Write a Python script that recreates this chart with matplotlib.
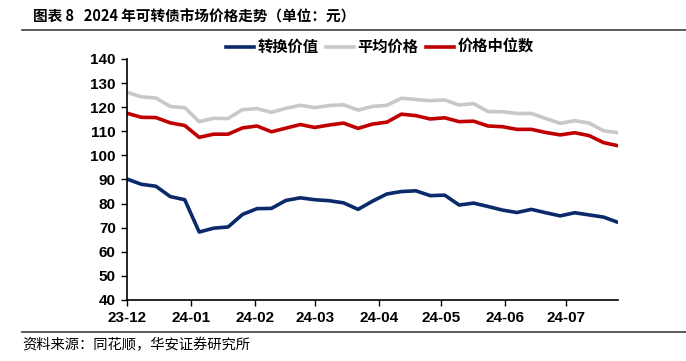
import matplotlib
matplotlib.use("Agg")
import matplotlib.pyplot as plt
import matplotlib.dates as mdates
import pandas as pd

plt.rcParams['font.family'] = ['Noto Sans CJK SC', 'DejaVu Sans']

# weekly data (Fridays)
dates = pd.date_range("2023-12-01", periods=35, freq="7D")
conv_value = [90.2, 88.0, 87.2, 82.9, 81.6, 68.2, 69.8, 70.3, 75.5, 77.9,
              78.0, 81.3, 82.4, 81.6, 81.2, 80.3, 77.6, 81.0, 84.0, 85.0,
              85.3, 83.3, 83.5, 79.4, 80.2, 78.8, 77.3, 76.3, 77.6, 76.2,
              74.9, 76.2, 75.3, 74.4, 72.2]
avg_price = [126.2, 124.3, 123.8, 120.3, 119.8, 114.0, 115.4, 115.3, 119.0, 119.4,
             117.9, 119.5, 120.8, 119.8, 120.7, 121.0, 118.8, 120.3, 120.8, 123.7,
             123.2, 122.7, 123.0, 120.9, 121.5, 118.2, 118.1, 117.4, 117.4, 115.3,
             113.3, 114.4, 113.4, 110.2, 109.4]
median_price = [117.5, 115.8, 115.7, 113.5, 112.4, 107.5, 108.8, 108.8, 111.4, 112.2,
                109.8, 111.3, 112.8, 111.6, 112.6, 113.4, 111.2, 113.0, 113.8, 117.1,
                116.5, 115.1, 115.6, 114.0, 114.2, 112.2, 111.9, 110.8, 110.8, 109.5,
                108.5, 109.4, 108.2, 105.3, 104.0]
month_ticks = pd.date_range("2023-12-01", "2024-07-01", freq="MS")

fig = plt.figure(figsize=(6.86, 3.61), dpi=100)
ax = fig.add_axes([0.1851, 0.169, 0.7158, 0.6676])

ax.plot(dates, conv_value, color='#0B2A6B', lw=2.6, solid_joinstyle='round', label='转换价值')
ax.plot(dates, avg_price, color='#C8C8C8', lw=2.6, solid_joinstyle='round', label='平均价格')
ax.plot(dates, median_price, color='#C00000', lw=2.6, solid_joinstyle='round', label='价格中位数')

ax.set_ylim(40, 140)
ax.set_yticks(range(40, 141, 10))
ax.set_xlim(dates[0], dates[-1])
ax.set_xticks(month_ticks)
ax.xaxis.set_major_formatter(mdates.DateFormatter('%y-%m'))
for lab in ax.get_xticklabels() + ax.get_yticklabels():
    lab.set_fontweight('bold')
    lab.set_fontfamily('Liberation Sans')
    lab.set_fontsize(11)
ax.tick_params(axis='both', direction='out', length=4, width=1, colors='black')
ax.tick_params(axis='y', pad=4)
ax.tick_params(axis='x', pad=4)
for s in ['top', 'right']:
    ax.spines[s].set_visible(False)
for s in ['left', 'bottom']:
    ax.spines[s].set_linewidth(1.2)

fig.legend(loc='center', bbox_to_anchor=(0.554, 0.870), ncol=3, frameon=False,
           handlelength=1.8, handletextpad=0.25, columnspacing=0.5,
           prop={'weight': 'bold', 'size': 11})

fig.text(0.048, 0.953, '图表 8   2024 年可转债市场价格走势（单位：元）', fontsize=10.5,
         fontweight='bold', va='center', ha='left')
fig.add_artist(plt.Line2D([0.032, 1.0], [0.917, 0.917], color='#404040', lw=1.2))
fig.add_artist(plt.Line2D([0.032, 1.0], [0.081, 0.081], color='#404040', lw=1.2))
fig.text(0.032, 0.045, '资料来源：同花顺，华安证券研究所', fontsize=10.3, va='center', ha='left')

plt.savefig("out.png", dpi=100)
